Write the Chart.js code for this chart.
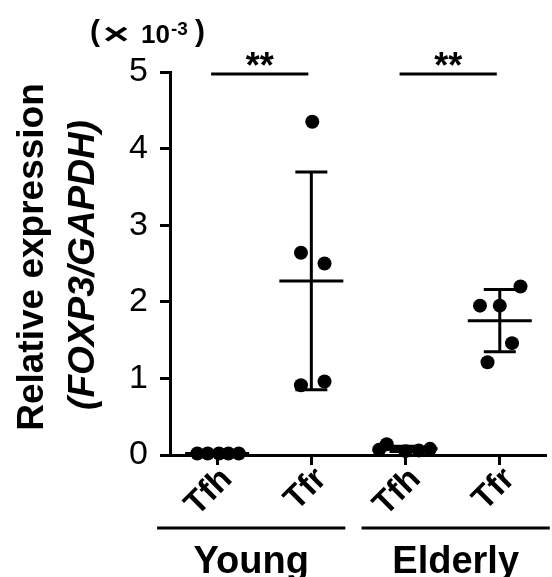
<!DOCTYPE html>
<html>
<head>
<meta charset="utf-8">
<script src="https://cdn.jsdelivr.net/npm/chart.js@4.4.1/dist/chart.umd.min.js"></script>
<style>
    html, body { margin: 0; padding: 0; background: #fff; }
    #wrap { width: 552px; height: 577px; }
</style>
</head>
<body>
<div id="wrap"><canvas id="graph" width="552" height="577"></canvas></div>
<script>
// Cell types along the x axis, two columns per age group
const cellTypes = ['Tfh', 'Tfr', 'Tfh', 'Tfr'];
const ageGroups = ['Young', 'Elderly'];
const groupColumns = [[0, 1], [2, 3]];
const sigLabels = ['**', '**'];

// FOXP3/GAPDH relative expression (x 10^-3), one array per column
const youngTfh = [0.02, 0.02, 0.02, 0.02, 0.02];
const youngTfr = [4.35, 2.64, 2.50, 0.91, 0.96];
const elderlyTfh = [0.07, 0.14, 0.05, 0.06, 0.08];
const elderlyTfr = [2.20, 1.95, 1.95, 1.46, 1.21];

// sideways spread of the dots in each column
const youngTfhJitter = [-0.21, -0.10, 0.02, 0.12, 0.23];
const youngTfrJitter = [0.01, -0.11, 0.14, -0.11, 0.14];
const elderlyTfhJitter = [-0.28, -0.20, 0.00, 0.14, 0.26];
const elderlyTfrJitter = [0.22, -0.21, 0.00, 0.13, -0.13];

const yTicks = [0, 1, 2, 3, 4, 5];

const columns = [youngTfh, youngTfr, elderlyTfh, elderlyTfr];
const jitters = [youngTfhJitter, youngTfrJitter, elderlyTfhJitter, elderlyTfrJitter];

const FONT = "'Liberation Sans', Arial, sans-serif";

const mean = (arr) => arr.reduce((s, v) => s + v, 0) / arr.length;
const stdev = (arr) => {
    let m = mean(arr);
    return Math.sqrt(arr.reduce((s, v) => s + (v - m) * (v - m), 0) / (arr.length - 1));
};

// mean line + SD whiskers under each column of dots
const meanSdBars = {
    id: 'meanSdBars',
    beforeDatasetsDraw(chart) {
        const ctx = chart.ctx;
        const xs = chart.scales.x, ys = chart.scales.y;
        ctx.save();
        ctx.strokeStyle = '#000';
        ctx.lineWidth = 3;
        columns.forEach((vals, i) => {
            let m = mean(vals), sd = stdev(vals);
            let cx = xs.getPixelForValue(i);
            let yMean = ys.getPixelForValue(m);
            let yHi = ys.getPixelForValue(m + sd);
            let yLo = ys.getPixelForValue(Math.max(m - sd, 0));
            ctx.beginPath();
            ctx.moveTo(cx - 32, yMean); ctx.lineTo(cx + 32, yMean);
            ctx.moveTo(cx, yHi); ctx.lineTo(cx, yLo);
            ctx.moveTo(cx - 16, yHi); ctx.lineTo(cx + 16, yHi);
            ctx.moveTo(cx - 16, yLo); ctx.lineTo(cx + 16, yLo);
            ctx.stroke();
        });
        ctx.restore();
    }
};

// axis title, multiplier, significance bars and age group labels
const annotations = {
    id: 'annotations',
    afterDraw(chart) {
        const ctx = chart.ctx;
        const xs = chart.scales.x, ys = chart.scales.y;
        ctx.save();
        ctx.fillStyle = '#000';
        ctx.strokeStyle = '#000';

        // y axis title, two rotated lines
        ctx.textAlign = 'center';
        ctx.textBaseline = 'alphabetic';
        ctx.save();
        ctx.translate(43, 257);
        ctx.rotate(-Math.PI / 2);
        ctx.font = 'bold 37px ' + FONT;
        ctx.fillText('Relative expression', 0, 0);
        ctx.restore();
        ctx.save();
        ctx.translate(94, 265);
        ctx.rotate(-Math.PI / 2);
        ctx.font = 'italic bold 37px ' + FONT;
        ctx.fillText('(FOXP3/GAPDH)', 0, 0);
        ctx.restore();

        // (× 10^-3) above the y axis
        ctx.textAlign = 'left';
        ctx.font = 'bold 30px ' + FONT;
        ctx.fillText('(', 90, 41);
        ctx.save();
        ctx.translate(103, 44);
        ctx.scale(1.5, 1);
        ctx.font = 'bold 30px ' + FONT;
        ctx.fillText('\u00d7', 0, 0);
        ctx.restore();
        ctx.font = 'bold 26px ' + FONT;
        ctx.fillText('10', 141, 43);
        ctx.font = 'bold 19px ' + FONT;
        ctx.fillText('-3', 171, 35);
        ctx.font = 'bold 30px ' + FONT;
        ctx.fillText(')', 195, 41);

        // significance bars
        ctx.lineWidth = 3;
        groupColumns.forEach((pair, g) => {
            let x0 = xs.getPixelForValue(pair[0]) - 6;
            let x1 = xs.getPixelForValue(pair[1]) - 3;
            let y = ys.getPixelForValue(5) + 2;
            ctx.beginPath();
            ctx.moveTo(x0, y); ctx.lineTo(x1, y);
            ctx.stroke();
            ctx.textAlign = 'center';
            ctx.font = 'bold 36px ' + FONT;
            ctx.fillText(sigLabels[g], (x0 + x1) / 2, y + 4);
        });

        // age group underlines and names
        const spans = [[-60, 34], [-44, 50]];
        groupColumns.forEach((pair, g) => {
            let x0 = xs.getPixelForValue(pair[0]) + spans[g][0];
            let x1 = xs.getPixelForValue(pair[1]) + spans[g][1];
            ctx.beginPath();
            ctx.moveTo(x0, 528); ctx.lineTo(x1, 528);
            ctx.stroke();
            ctx.textAlign = 'center';
            ctx.font = 'bold 38px ' + FONT;
            ctx.fillText(ageGroups[g], (x0 + x1) / 2, 573);
        });
        ctx.restore();
    }
};

const datasets = columns.map((vals, i) => ({
    data: vals.map((v, j) => ({ x: i + jitters[i][j], y: v })),
    backgroundColor: '#000',
    borderColor: '#000',
    pointRadius: 7,
    pointHoverRadius: 7,
    borderWidth: 0,
    clip: false
}));

const ctx = document.getElementById('graph').getContext('2d');
const myChart = new Chart(ctx, {
    type: 'scatter',
    data: { datasets: datasets },
    options: {
        responsive: false,
        animation: false,
        events: [],
        layout: {
            padding: { left: 120, top: 72, right: 0, bottom: 0 }
        },
        plugins: {
            legend: { display: false },
            tooltip: { enabled: false }
        },
        scales: {
            x: {
                type: 'linear',
                min: -0.5,
                max: 3.48,
                afterBuildTicks: (s) => { s.ticks = cellTypes.map((c, i) => ({ value: i })); },
                afterFit: (s) => { s.height = 122; },
                ticks: {
                    callback: (v) => cellTypes[v],
                    minRotation: 45,
                    maxRotation: 45,
                    autoSkip: false,
                    color: '#000',
                    padding: -5,
                    labelOffset: 10,
                    font: { family: FONT, size: 33, weight: 'bold' }
                },
                grid: { drawOnChartArea: false, tickLength: 10, color: '#000', lineWidth: 3 },
                border: { color: '#000', width: 3 }
            },
            y: {
                min: 0,
                max: 5,
                afterBuildTicks: (s) => { s.ticks = yTicks.map((v) => ({ value: v })); },
                afterFit: (s) => { s.width = 50; },
                ticks: {
                    color: '#000',
                    padding: 12,
                    font: { family: FONT, size: 34 }
                },
                grid: { drawOnChartArea: false, tickLength: 10, color: '#000', lineWidth: 3 },
                border: { color: '#000', width: 3 }
            }
        }
    },
    plugins: [meanSdBars, annotations]
});
</script>
</body>
</html>
